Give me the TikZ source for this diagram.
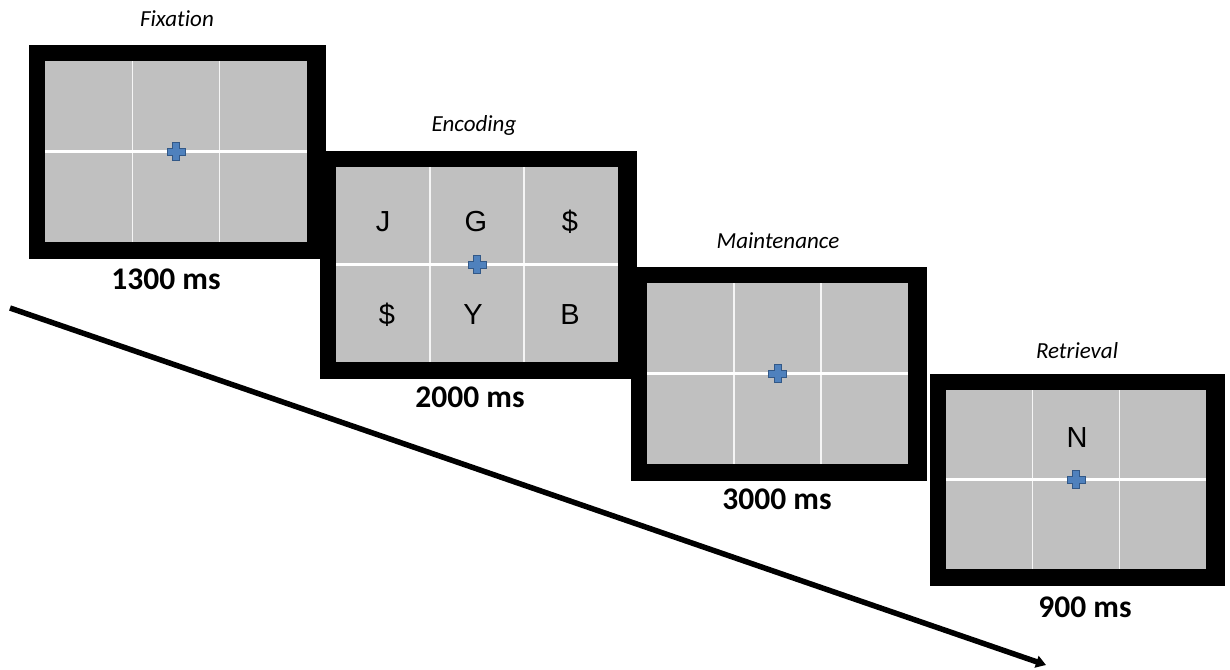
\documentclass[tikz,border=0pt]{standalone}
\usepackage{fontspec}
\setmainfont{Carlito}[Ligatures=NoCommon]
\newfontfamily\arialfont{Liberation Sans}
\usetikzlibrary{arrows.meta}
\definecolor{screengrey}{RGB}{192,192,192}
\definecolor{crossblue}{RGB}{79,129,189}
\definecolor{crossedge}{RGB}{50,88,135}
\tikzset{
  gridline/.style={draw=white!96!black, line width=1.4pt},
  midline/.style={draw=white, line width=3pt},
  crossmark/.style={fill=crossblue, draw=crossedge, line width=1pt, line join=miter},
  phase/.style={anchor=base, font=\itshape\fontsize{23}{23}\selectfont},
  timing/.style={anchor=base, font=\bfseries\fontsize{31.5}{31.5}\selectfont},
  letter/.style={anchor=base, font=\arialfont\fontsize{29}{29}\selectfont},
}
% cruz de fixacao
\newcommand{\fixcross}[2]{%
  \begin{scope}[shift={({#1},{#2})}]
    \filldraw[crossmark] (-3.5,-9) -- (3.5,-9) -- (3.5,-3.5) -- (9,-3.5) -- (9,3.5) -- (3.5,3.5)
      -- (3.5,9) -- (-3.5,9) -- (-3.5,3.5) -- (-9,3.5) -- (-9,-3.5) -- (-3.5,-3.5) -- cycle;
  \end{scope}}
% tela: moldura preta, fundo cinza, grade 3x2 (x1,y1,x2,y2 do fundo)
\newcommand{\taskscreen}[4]{%
  \fill[black] ({#1-16},{#2-16}) rectangle ({#3+19},{#4+17});
  \fill[screengrey] (#1,#2) rectangle (#3,#4);
  \draw[gridline] ({#1+(#3-#1)/3},#2) -- ({#1+(#3-#1)/3},#4);
  \draw[gridline] ({#1+2*(#3-#1)/3},#2) -- ({#1+2*(#3-#1)/3},#4);
  \draw[midline] (#1,{(#2+#4)/2}) -- (#3,{(#2+#4)/2});
  \fixcross{(#1+#3)/2}{(#2+#4)/2}}
\begin{document}
\begin{tikzpicture}[x=1pt,y=-1pt]
  \useasboundingbox (0,0) rectangle (1230,669);
  %Eixo do tempo
  \coordinate (timestart) at (10,308);
  \coordinate (timeend) at (1046,665);
  \draw[line width=5.5pt, -{Triangle[length=10pt,width=12pt]}] (timestart) -- (timeend);

  %Telas
  \taskscreen{45}{61}{307}{242}    %Fixation
  \taskscreen{336}{167}{618}{362}  %Encoding
  \taskscreen{647}{283}{908}{464}  %Maintenance
  \taskscreen{946}{390}{1206}{569} %Retrieval

  %Letras
  \node[letter] (letJ) at (383,231) {J};
  \node[letter] (letG) at (476,231) {G};
  \node[letter] (letDa) at (570,231) {\$};
  \node[letter] (letDb) at (387,324) {\$};
  \node[letter] (letY) at (473,324) {Y};
  \node[letter] (letB) at (570,324) {B};
  \node[letter] (letN) at (1077,447) {N};

  %Fases
  \node[phase] (fixlabel) at (177,27) {Fixat\kern0pt ion};
  \node[phase] (enclabel) at (474,131) {Encoding};
  \node[phase] (mntlabel) at (778,248) {Maintenance};
  \node[phase] (retlabel) at (1077,358) {Retrieval};

  %Tempos
  \node[timing] (fixtime) at (166,289) {1300 ms};
  \node[timing] (enctime) at (470,407) {2000 ms};
  \node[timing] (mnttime) at (777,509) {3000 ms};
  \node[timing] (rettime) at (1085,617) {900 ms};
\end{tikzpicture}
\end{document}
